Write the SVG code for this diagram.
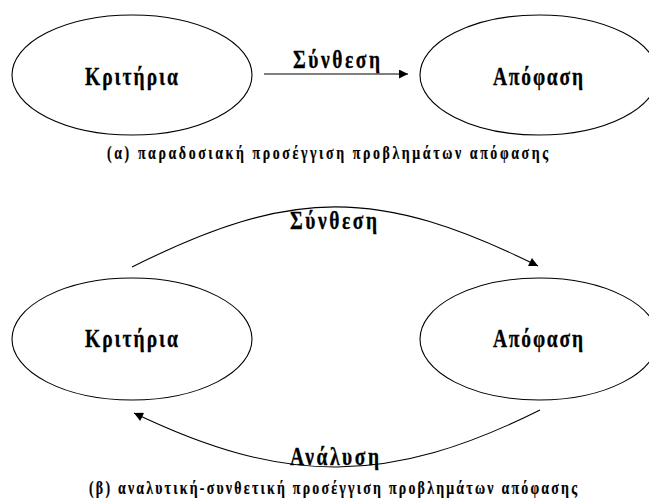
<svg xmlns="http://www.w3.org/2000/svg" width="649" height="499" viewBox="0 0 649 499">
  <style>
    .node { fill: #ffffff; stroke: #000000; stroke-width: 1.1; }
    .edge { fill: none; stroke: #000000; stroke-width: 1.1; }
    .lbl { font-family: "Liberation Serif", "DejaVu Serif", serif; font-weight: 700; font-size: 26px; fill: #000000; stroke: #000000; stroke-width: 0.3; }
    .cap { font-family: "Liberation Serif", "DejaVu Serif", serif; font-weight: 700; font-size: 18.5px; fill: #000000; stroke: #000000; stroke-width: 0.2; }
  </style>
  <defs>
    <marker id="arrow" viewBox="0 0 10 10" refX="10" refY="5" markerWidth="10" markerHeight="9" markerUnits="userSpaceOnUse" orient="auto">
      <path d="M0,0 L10,5 L0,10 Z" fill="#000000" stroke="none"/>
    </marker>
  </defs>
  <rect width="649" height="499" fill="#ffffff"/>

  <!-- (α) traditional approach -->
  <g id="criteria-a">
    <ellipse class="node" cx="132" cy="75" rx="120" ry="60"/>
    <text class="lbl" transform="translate(85,85) scale(0.75,1)" textLength="124" lengthAdjust="spacing">Κριτήρια</text>
  </g>
  <g id="decision-a">
    <ellipse class="node" cx="539" cy="75" rx="119" ry="60"/>
    <text class="lbl" transform="translate(493,85) scale(0.75,1)" textLength="120" lengthAdjust="spacing">Απόφαση</text>
  </g>

  <!-- (β) analytic-synthetic approach -->
  <g id="criteria-b">
    <ellipse class="node" cx="132" cy="339" rx="120" ry="61"/>
    <text class="lbl" transform="translate(85,347) scale(0.75,1)" textLength="124" lengthAdjust="spacing">Κριτήρια</text>
  </g>
  <g id="decision-b">
    <ellipse class="node" cx="539" cy="339" rx="119" ry="61"/>
    <text class="lbl" transform="translate(493,347) scale(0.75,1)" textLength="120" lengthAdjust="spacing">Απόφαση</text>
  </g>

  <g id="connectors">
    <line class="edge" x1="264" y1="74" x2="408" y2="74" marker-end="url(#arrow)"/>
    <text class="lbl" transform="translate(293,68) scale(0.75,1)" textLength="116" lengthAdjust="spacing">Σύνθεση</text>

    <path class="edge" d="M132,267 C292,187 378,187 538,266" marker-end="url(#arrow)"/>
    <text class="lbl" transform="translate(290,229) scale(0.75,1)" textLength="116" lengthAdjust="spacing">Σύνθεση</text>

    <path class="edge" d="M540,410 C389,485.5 285,485.5 134,413" marker-end="url(#arrow)"/>
    <text class="lbl" transform="translate(290,465) scale(0.75,1)" textLength="118.7" lengthAdjust="spacing">Ανάλυση</text>
  </g>

  <!-- captions -->
  <text class="cap" transform="translate(107,159) scale(0.75,1)" textLength="588" lengthAdjust="spacing">(α) παραδοσιακή προσέγγιση προβλημάτων απόφασης</text>
  <text class="cap" transform="translate(89,494) scale(0.75,1)" textLength="650.7" lengthAdjust="spacing">(β) αναλυτική-συνθετική προσέγγιση προβλημάτων απόφασης</text>
</svg>
